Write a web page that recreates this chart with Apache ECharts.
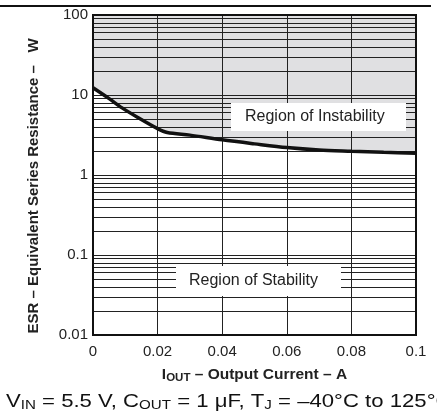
<!DOCTYPE html>
<html>
<head>
	<meta charset="utf-8">
	<script src="https://cdn.jsdelivr.net/npm/echarts@6/dist/echarts.min.js"></script>
	<title>ESR vs Output Current</title>
	<style>
		html, body { margin: 0; padding: 0; background: #fff; }
		#c { width: 437px; height: 415px; }
	</style>
</head>
<body>
	<div id="c"></div>
	<script>
		// boundary curve
		var iout = [0, 0.005, 0.009, 0.014, 0.02, 0.023, 0.03, 0.04, 0.05, 0.06, 0.07, 0.08, 0.09, 0.1];
		var esr = [12.3, 9.0, 6.9, 5.2, 3.8, 3.4, 3.15, 2.75, 2.45, 2.2, 2.05, 1.98, 1.92, 1.87];
		var xTickLabels = ['0', '0.02', '0.04', '0.06', '0.08', '0.1'];
		var yTickLabels = ['0.01', '0.1', '1', '10', '100'];
		var decades = [0.01, 0.1, 1, 10];
		var minorSteps = [2, 3, 4, 5, 6, 7, 8, 9];

		var curve = [];
		for (var i = 0; i < iout.length; i++) {
			curve.push([iout[i], esr[i]]);
		}
		var minorLines = [];
		decades.forEach(function (d) {
			minorSteps.forEach(function (m) {
				minorLines.push({ yAxis: +(d * m).toPrecision(3) });
			});
		});

		var font = 'Liberation Sans, Arial, Helvetica, sans-serif';
		var myChart = echarts.init(document.getElementById('c'));
		var option = {
			animation: false,
			grid: {
				left: 93, right: 21, top: 15, bottom: 80,
				show: true, z: 5,
				backgroundColor: 'transparent',
				borderColor: '#111', borderWidth: 2
			},
			xAxis: {
				type: 'value', min: 0, max: 0.1, interval: 0.02, z: 3,
				axisLine: { lineStyle: { color: '#111', width: 2 } },
				axisTick: { show: false },
				axisLabel: {
					margin: 9, color: '#222', fontSize: 15, fontFamily: font,
					formatter: function (v, idx) { return xTickLabels[idx]; }
				},
				splitLine: { show: true, lineStyle: { color: '#222', width: 1 } },
				name: '{b|I}{s|OUT}{b| – Output Current – A}',
				nameLocation: 'middle',
				nameGap: 31,
				nameTextStyle: {
					rich: {
						b: { fontSize: 15.5, fontWeight: 'bold', color: '#222', fontFamily: font },
						s: { fontSize: 11.5, fontWeight: 'bold', color: '#222', fontFamily: font, padding: [6, 0, 0, 0] }
					}
				}
			},
			yAxis: {
				type: 'log', logBase: 10, min: 0.01, max: 100, z: 3,
				axisLine: { lineStyle: { color: '#111', width: 2 } },
				axisTick: { show: false },
				axisLabel: {
					margin: 5, color: '#222', fontSize: 15, fontFamily: font,
					formatter: function (v, idx) { return yTickLabels[idx]; }
				},
				splitLine: { show: true, lineStyle: { color: '#222', width: 1 } }
			},
			graphic: [
				{
					type: 'line', z: 20,
					shape: { x1: 0, y1: 6, x2: 431, y2: 6 },
					style: { stroke: '#111', lineWidth: 2 }
				},
				{
					type: 'text', z: 20,
					x: 34, y: 186, rotation: Math.PI / 2,
					style: {
						text: 'ESR – Equivalent Series Resistance –   W',
						font: 'bold 15px ' + font, fill: '#222',
						align: 'center', verticalAlign: 'middle'
					}
				},
				{
					type: 'rect', z: 20,
					shape: { x: 231, y: 103, width: 175, height: 28 },
					style: { fill: '#fff' }
				},
				{
					type: 'text', z: 21,
					x: 245, y: 117,
					style: {
						text: 'Region of Instability',
						font: '16px ' + font, fill: '#222',
						align: 'left', verticalAlign: 'middle'
					}
				},
				{
					type: 'rect', z: 20,
					shape: { x: 176, y: 266, width: 165, height: 30 },
					style: { fill: '#fff' }
				},
				{
					type: 'text', z: 21,
					x: 189, y: 281,
					style: {
						text: 'Region of Stability',
						font: '16px ' + font, fill: '#222',
						align: 'left', verticalAlign: 'middle'
					}
				},
				{
					type: 'text', z: 20,
					x: 6, y: 402, scaleX: 1.165,
					style: {
						text: '{n|V}{s|IN}{n| = 5.5 V, C}{s|OUT}{n| = 1 μF, T}{s|J}{n| = –40°C to 125°C}',
						align: 'left', verticalAlign: 'middle',
						rich: {
							n: { fontSize: 19, fill: '#111', fontFamily: font },
							s: { fontSize: 13, fill: '#111', fontFamily: font, padding: [7, 0, 0, 0] }
						}
					}
				}
			],
			series: [
				{
					// shaded region of instability, above the curve
					type: 'line', z: 1,
					data: curve, smooth: 0.3, symbol: 'none', silent: true,
					lineStyle: { width: 0 },
					areaStyle: { origin: 'end', color: '#e0e0e2', opacity: 1 },
					markLine: {
						z: 2, silent: true, symbol: 'none',
						label: { show: false },
						lineStyle: { color: '#222', width: 1, type: 'solid' },
						data: minorLines
					}
				},
				{
					type: 'line', z: 4,
					data: curve, smooth: 0.3, symbol: 'none', silent: true,
					lineStyle: { color: '#111', width: 3.5 }
				}
			]
		};
		myChart.setOption(option);
	</script>
</body>
</html>
